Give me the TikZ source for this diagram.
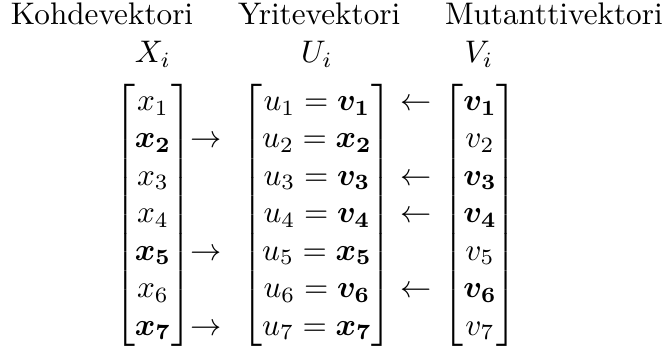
\documentclass[tikz,border=0pt]{standalone}
\usepackage{amsmath,amssymb}
\begin{document}
\begin{tikzpicture}[x=0.3205pt,y=-0.3205pt,
  lbl/.style={inner sep=0pt,outer sep=0pt,anchor=base west},
  mth/.style={inner sep=0pt,outer sep=0pt,anchor=base}]
\useasboundingbox (0,0) rectangle (663,351);
% headings
\node[lbl] (hk) at (11,25) {Kohdevektori};
\node[lbl] (hy) at (238,25) {Yritevektori};
\node[lbl] (hm) at (445,25) {Mutanttivektori};
% vector names
\node[mth] (nx) at (153,63) {$X_i$};
\node[mth] (nu) at (317,63) {$U_i$};
\node[mth] (nv) at (479,63) {$V_i$};
% matrices
\node[mth] (mx) at (153,223) {$\begin{bmatrix} x_1\\ \boldsymbol{x_2}\\ x_3\\ x_4\\ \boldsymbol{x_5}\\ x_6\\ \boldsymbol{x_7}\end{bmatrix}$};
\node[mth] (ax) at (206,223) {$\begin{matrix} \\ \rightarrow\\ \\ \\ \rightarrow\\ \\ \rightarrow\end{matrix}$};
\node[mth] (mu) at (317,223) {$\begin{bmatrix} u_1=\boldsymbol{v_1}\\ u_2=\boldsymbol{x_2}\\ u_3=\boldsymbol{v_3}\\ u_4=\boldsymbol{v_4}\\ u_5=\boldsymbol{x_5}\\ u_6=\boldsymbol{v_6}\\ u_7=\boldsymbol{x_7}\end{bmatrix}$};
\node[mth] (av) at (416,223) {$\begin{matrix} \leftarrow\\ \\ \leftarrow\\ \leftarrow\\ \\ \leftarrow\\ \\ \end{matrix}$};
\node[mth] (mv) at (480,223) {$\begin{bmatrix} \boldsymbol{v_1}\\ v_2\\ \boldsymbol{v_3}\\ \boldsymbol{v_4}\\ v_5\\ \boldsymbol{v_6}\\ v_7\end{bmatrix}$};
\end{tikzpicture}
\end{document}
